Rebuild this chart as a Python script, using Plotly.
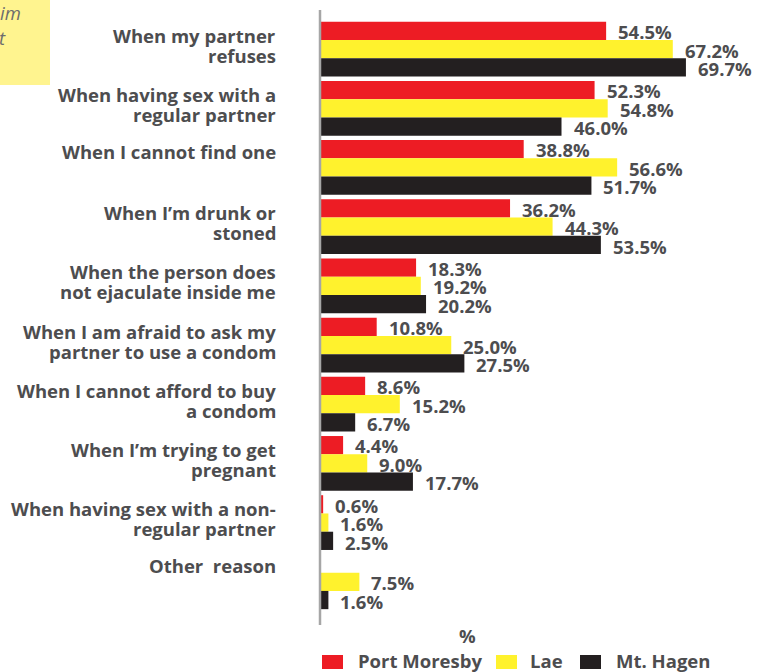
import plotly.graph_objects as go

categories = [
    "When my partner<br>refuses",
    "When having sex with a<br>regular partner",
    "When I cannot find one",
    "When I’m drunk or<br>stoned",
    "When the person does<br>not ejaculate inside me",
    "When I am afraid to ask my<br>partner to use a condom",
    "When I cannot afford to buy<br>a condom",
    "When I’m trying to get<br>pregnant",
    "When having sex with a non-<br>regular partner",
    "Other  reason",
]
series_names = ["Port Moresby", "Lae", "Mt. Hagen"]
port_moresby = [54.5, 52.3, 38.8, 36.2, 18.3, 10.8, 8.6, 4.4, 0.6, 0.0]
lae = [67.2, 54.8, 56.6, 44.3, 19.2, 25.0, 15.2, 9.0, 1.6, 7.5]
mt_hagen = [69.7, 46.0, 51.7, 53.5, 20.2, 27.5, 6.7, 17.7, 2.5, 1.6]
colors = ["#ED1C24", "#FFF22D", "#231F20"]

FONT = "Open Sans"
TXT = "#4D4D4F"
FS = 18.5

# layout geometry (pixels)
W_FIG, H_FIG = 762, 672
L, R, T, B = 320, 22, 10, 47
PW, PH = W_FIG - L - R, H_FIG - T - B


def px_x(px):
    return (px - L) / PW


def px_y(py):
    return 1 - (py - T) / PH


fig = go.Figure()
series = [port_moresby, lae, mt_hagen]
for name, vals, col in zip(series_names, series, colors):
    fig.add_trace(go.Bar(
        y=list(range(len(categories))), x=vals, orientation="h", name=name,
        marker=dict(color=col, line=dict(width=0)),
        cliponaxis=False, showlegend=False, hoverinfo="skip",
    ))

annotations = []
# value labels
offsets = [18.5, 0, -18.5]
for vals, dy in zip(series, offsets):
    for i, v in enumerate(vals):
        if v <= 0:
            continue
        annotations.append(dict(
            x=v, y=i, xref="x", yref="y", text=f"{v:.1f}%", showarrow=False,
            xanchor="left", yanchor="middle", xshift=10, yshift=dy - 1,
            font=dict(family=FONT, size=FS, color=TXT, weight="bold"),
        ))
# category labels, one annotation per line for tight leading
for i, c in enumerate(categories):
    lines = c.split("<br>")
    shifts = [16] if len(lines) == 1 else [14, -6]
    for ln, sh in zip(lines, shifts):
        annotations.append(dict(
            x=0, y=i, xref="paper", yref="y", text=ln, showarrow=False,
            xanchor="right", yanchor="middle", align="right",
            xshift=-42, yshift=sh,
            font=dict(family=FONT, size=FS, color=TXT, weight="bold"),
        ))
# axis title
annotations.append(dict(
    x=px_x(467), y=px_y(635), xref="paper", yref="paper", text="%", showarrow=False,
    xanchor="center", yanchor="middle",
    font=dict(family=FONT, size=FS, color=TXT, weight="bold"),
))
# legend (custom, larger swatches)
legend_items = [(322, 356), (496, 528), (580, 614)]
shapes = []
for (sx, tx), name, col in zip(legend_items, series_names, colors):
    shapes.append(dict(type="rect", xref="paper", yref="paper",
                       x0=px_x(sx), x1=px_x(sx + 21), y0=px_y(669), y1=px_y(655),
                       fillcolor=col, line=dict(width=0)))
    annotations.append(dict(
        x=px_x(tx), y=px_y(660), xref="paper", yref="paper", text=name, showarrow=False,
        xanchor="left", yanchor="middle",
        font=dict(family=FONT, size=FS, color=TXT, weight="bold"),
    ))
# cropped note box text
annotations.append(dict(
    x=px_x(23), y=px_y(12), xref="paper", yref="paper", text="im", showarrow=False,
    xanchor="right", yanchor="middle",
    font=dict(family=FONT, size=FS, color="#6D6D6D", style="italic"),
))
annotations.append(dict(
    x=px_x(8), y=px_y(37), xref="paper", yref="paper", text="t", showarrow=False,
    xanchor="right", yanchor="middle",
    font=dict(family=FONT, size=FS, color="#6D6D6D", style="italic"),
))

shapes += [
    dict(type="rect", xref="paper", yref="paper", x0=px_x(-2), x1=px_x(50),
         y0=px_y(85), y1=px_y(-2), fillcolor="#FFF48F", line=dict(width=0), layer="below"),
    dict(type="line", xref="paper", yref="paper", x0=0, x1=0, y0=0, y1=1,
         line=dict(color="#A6A6A6", width=2.5)),
]

fig.update_layout(
    width=W_FIG, height=H_FIG,
    margin=dict(l=L, r=R, t=T, b=B),
    paper_bgcolor="white", plot_bgcolor="white",
    barmode="group", bargap=0.075, bargroupgap=0,
    showlegend=False,
    xaxis=dict(range=[0, 80], showgrid=False, zeroline=False, showticklabels=False,
               showline=False, ticks="", fixedrange=True),
    yaxis=dict(range=[9.73, -0.66], showgrid=False, zeroline=False, showticklabels=False,
               showline=False, ticks="", fixedrange=True),
    annotations=annotations,
    shapes=shapes,
    font=dict(family=FONT, color=TXT),
)

fig.write_html("out.html", config={"displayModeBar": False},
               post_script="document.body.style.margin='0';")
